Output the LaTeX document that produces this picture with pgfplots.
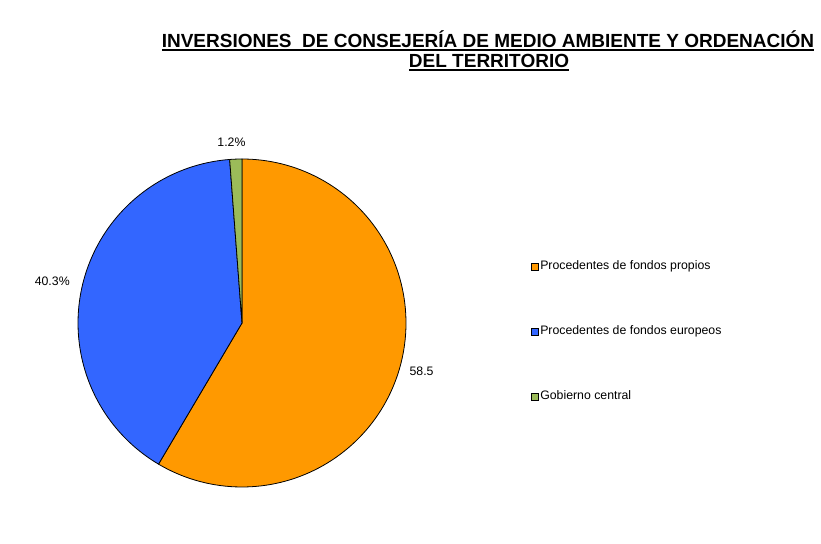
\documentclass[border=0pt]{standalone}
\usepackage{pgfplots}
\pgfplotsset{compat=1.18}
\usepackage{pgfplotstable}
\usepackage{fontspec}
\setmainfont{Liberation Sans}
\definecolor{cOrange}{HTML}{FF9900}
\definecolor{cBlue}{HTML}{3366FF}
\definecolor{cGreen}{HTML}{9BBB59}
\newcommand\ul[1]{\setbox0\hbox{#1}\rlap{\rule[-3.6pt]{\wd0}{1.9pt}}\box0}

\pgfplotstableread{
share
58.5
40.3
1.2
}\shares
\pgfplotstablegetelem{0}{share}\of\shares \let\sA\pgfplotsretval
\pgfplotstablegetelem{1}{share}\of\shares \let\sB\pgfplotsretval
\pgfplotstablegetelem{2}{share}\of\shares \let\sC\pgfplotsretval
\pgfmathsetmacro\aA{90-3.6*\sA}
\pgfmathsetmacro\aB{\aA-3.6*\sB}
\pgfmathsetmacro\aC{\aB-3.6*\sC}

\begin{document}
\begin{tikzpicture}[x=1pt,y=1pt]
\useasboundingbox (0,0) rectangle (821,543);
\node[anchor=base, font=\fontsize{19}{22}\selectfont\bfseries] at (488,495.5) {\ul{INVERSIONES\ \ DE CONSEJERÍA DE MEDIO AMBIENTE Y ORDENACIÓN}};
\node[anchor=base, font=\fontsize{19}{22}\selectfont\bfseries] at (489,475.5) {\ul{DEL TERRITORIO}};
\begin{axis}[
  at={(242pt,220pt)}, anchor=center,
  x=164pt, y=164pt,
  xmin=-1, xmax=1, ymin=-1, ymax=1,
  hide axis, clip=false,
  legend style={at={(axis description cs:1.381,0.4744)}, anchor=west,
    draw=none, fill=none, inner sep=0pt, row sep=50pt,
    font=\fontsize{12.3}{14}\selectfont,
    nodes={text height=9pt, text depth=3pt, inner sep=1.5pt}},
  legend cell align=left,
  legend image code/.code={\draw[#1, draw=black, line width=0.6pt] (0pt,-3.5pt) rectangle (7pt,3.5pt);},
]
\addplot[fill=cOrange, draw=black, line width=0.8pt, domain=\aA:90, samples=120, variable=\t]
  ({cos(t)},{sin(t)}) -- (axis cs:0,0) -- cycle;
\addlegendentry{Procedentes de fondos propios}
\addplot[fill=cBlue, draw=black, line width=0.8pt, domain=\aB:\aA, samples=90, variable=\t]
  ({cos(t)},{sin(t)}) -- (axis cs:0,0) -- cycle;
\addlegendentry{Procedentes de fondos europeos}
\addplot[fill=cGreen, draw=black, line width=0.8pt, domain=\aC:\aB, samples=5, variable=\t]
  ({cos(t)},{sin(t)}) -- (axis cs:0,0) -- cycle;
\addlegendentry{Gobierno central}
\node[font=\fontsize{12.3}{14}\selectfont] at (axis cs:-0.064,1.101) {\sC\%};
\node[font=\fontsize{12.3}{14}\selectfont] at (axis cs:-1.157,0.252) {\sB\%};
\node[font=\fontsize{12.3}{14}\selectfont] at (axis cs:1.095,-0.296) {\sA};
\end{axis}
\end{tikzpicture}
\end{document}
